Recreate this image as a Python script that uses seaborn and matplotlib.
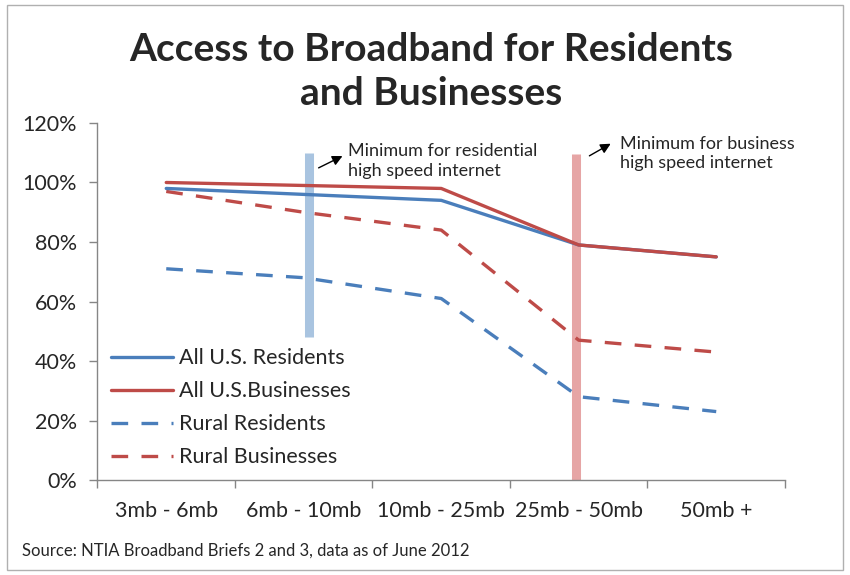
import matplotlib
matplotlib.use('AGG')
import matplotlib.pyplot as plt
import seaborn as sns
from pandas import DataFrame
from matplotlib.patches import Rectangle

categorias = ['3mb - 6mb', '6mb - 10mb', '10mb - 25mb', '25mb - 50mb', '50mb +']
residentes = [98, 96, 94, 79, 75]
empresas = [100, 99, 98, 79, 75]
residentes_rurales = [71, 68, 61, 28, 23]
empresas_rurales = [97, 90, 84, 47, 43]
series = ['All U.S. Residents', 'All U.S.Businesses', 'Rural Residents', 'Rural Businesses']
minimo_residencial = 1.04
minimo_empresas = 2.98

sns.set_theme(style='white')
plt.rcParams['font.family'] = ['Lato', 'DejaVu Sans']

filas = []
for nombre, valores in zip(series, [residentes, empresas, residentes_rurales, empresas_rurales]):
    for i, v in enumerate(valores):
        filas.append({'pos': i, 'valor': v, 'serie': nombre})
datos = DataFrame(filas)

azul = '#4a7ebb'
rojo = '#be4b48'
estilos = {
    'All U.S. Residents': (azul, ''),
    'All U.S.Businesses': (rojo, ''),
    'Rural Residents': (azul, (5, 4)),
    'Rural Businesses': (rojo, (5, 4)),
}

fig = plt.figure(figsize=(8.5, 5.75), dpi=100)
ax = fig.add_axes([0.1147, 0.1652, 0.8088, 0.6209])

# bandas verticales de minimo
ax.plot([minimo_residencial] * 2, [48, 110], color='#a9c4e0', lw=6.5, solid_capstyle='butt', zorder=1)
ax.plot([minimo_empresas] * 2, [0, 109.5], color='#e6a5a5', lw=6.5, solid_capstyle='butt', zorder=1)

orden = ['Rural Residents', 'Rural Businesses', 'All U.S. Residents', 'All U.S.Businesses']
for nombre in orden:
    color, guion = estilos[nombre]
    sub = datos[datos['serie'] == nombre]
    sns.lineplot(data=sub, x='pos', y='valor', ax=ax, color=color, lw=2.4,
                 label=nombre, zorder=3)
    if guion:
        ax.lines[-1].set_dashes(guion)

ax.set_xlim(-0.5, 4.5)
ax.set_ylim(0, 120)
ax.set_xlabel('')
ax.set_ylabel('')
ax.set_yticks(range(0, 121, 20))
ax.set_yticklabels([f'{v}%' for v in range(0, 121, 20)], fontsize=15.5)
ax.set_xticks([i - 0.5 for i in range(len(categorias) + 1)])
ax.set_xticklabels([])
ax.set_xticks(range(len(categorias)), minor=True)
ax.set_xticklabels(categorias, minor=True, fontsize=15.5)
ax.tick_params(axis='x', which='minor', length=0, pad=15)
ax.tick_params(axis='both', which='major', length=6, width=1, color='#868686', direction='out')
ax.tick_params(axis='y', pad=9)
ax.tick_params(axis='x', which='major', bottom=True)
ax.tick_params(axis='y', which='major', left=True)
for lado in ['top', 'right']:
    ax.spines[lado].set_visible(False)
for lado in ['left', 'bottom']:
    ax.spines[lado].set_color('#868686')
    ax.spines[lado].set_linewidth(1)

manejadores, etiquetas = ax.get_legend_handles_labels()
mapa = dict(zip(etiquetas, manejadores))
ax.legend([mapa[s] for s in series], series, loc='lower left', bbox_to_anchor=(0.019, 0.036),
          borderaxespad=0, borderpad=0, frameon=False, fontsize=15.5, handlelength=2.9,
          labelspacing=0.6, handletextpad=0.3)

ax.text(minimo_residencial + 0.28, 107.2, 'Minimum for residential\nhigh speed internet',
        fontsize=13, va='center', ha='left', linespacing=1.25)
ax.annotate('', xy=(minimo_residencial + 0.26, 109.3), xytext=(minimo_residencial + 0.05, 104.5),
            arrowprops=dict(arrowstyle='-|>', color='black', lw=1, mutation_scale=15))
ax.text(minimo_empresas + 0.32, 109.7, 'Minimum for business\nhigh speed internet',
        fontsize=13, va='center', ha='left', linespacing=1.25)
ax.annotate('', xy=(minimo_empresas + 0.27, 113.5), xytext=(minimo_empresas + 0.08, 108.5),
            arrowprops=dict(arrowstyle='-|>', color='black', lw=1, mutation_scale=15))

fig.text(0.507, 0.876, 'Access to Broadband for Residents\nand Businesses', ha='center', va='center',
         fontsize=28, fontweight='bold', linespacing=1.32)
fig.text(0.026, 0.042, 'Source: NTIA Broadband Briefs 2 and 3, data as of June 2012', fontsize=12,
         ha='left', va='center')
fig.patches.append(Rectangle((0.008, 0.008), 0.984, 0.984, transform=fig.transFigure,
                             fill=False, edgecolor='#b0b0b0', lw=1))

plt.savefig('out.png')
plt.close()
